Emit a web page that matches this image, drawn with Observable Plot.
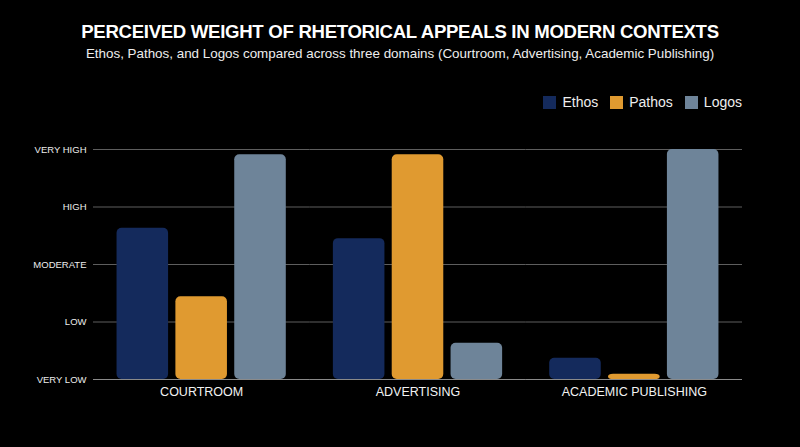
<!DOCTYPE html>
<html>
<head>
<meta charset="utf-8">
<script src="https://cdn.jsdelivr.net/npm/d3@7"></script>
<script src="https://cdn.jsdelivr.net/npm/@observablehq/plot@0.6"></script>
<style>
  html, body { margin: 0; padding: 0; background: #000; }
  body { width: 800px; height: 447px; overflow: hidden; font-family: "Liberation Sans", Arial, sans-serif; color: #fff; }
  #header { position: relative; height: 120px; }
  #title { position: absolute; top: 21px; left: 0; width: 800px; text-align: center; font-size: 18.6px; font-weight: bold; letter-spacing: -0.3px; }
  #subtitle { position: absolute; top: 46px; left: 0; width: 800px; text-align: center; font-size: 13.4px; color: #eee; }
  #legend { position: absolute; top: 94px; right: 58px; display: flex; align-items: center; font-size: 14px; color: #eee; }
  .item { display: flex; align-items: center; margin-left: 12px; }
  .sw { width: 13px; height: 13px; margin-right: 6px; }
  #chart svg { display: block; }
</style>
</head>
<body>
<div id="header">
  <div id="title"></div>
  <div id="subtitle"></div>
  <div id="legend"></div>
</div>
<div id="chart"></div>
<script>
const titleText = "PERCEIVED WEIGHT OF RHETORICAL APPEALS IN MODERN CONTEXTS";
const subtitleText = "Ethos, Pathos, and Logos compared across three domains (Courtroom, Advertising, Academic Publishing)";
const domains = ["COURTROOM", "ADVERTISING", "ACADEMIC PUBLISHING"];
const appeals = ["Ethos", "Pathos", "Logos"];
const colors = ["#142a5c", "#e09a30", "#6e8499"];
const levelLabels = ["VERY LOW", "LOW", "MODERATE", "HIGH", "VERY HIGH"];
// level above "VERY LOW" (0 = very low, 4 = very high)
const ethos  = [2.63, 2.45, 0.37];
const pathos = [1.44, 3.91, 0.09];
const logos  = [3.91, 0.63, 4.0];

document.getElementById("title").textContent = titleText;
document.getElementById("subtitle").textContent = subtitleText;
const legend = document.getElementById("legend");
appeals.forEach((a, i) => {
  const it = document.createElement("div"); it.className = "item";
  const sw = document.createElement("div"); sw.className = "sw"; sw.style.background = colors[i];
  const t = document.createElement("span"); t.textContent = a;
  it.appendChild(sw); it.appendChild(t); legend.appendChild(it);
});

const series = [ethos, pathos, logos];
const data = [];
domains.forEach((d, di) => appeals.forEach((a, ai) => data.push({domain: d, appeal: a, value: series[ai][di]})));

const chart = Plot.plot({
  width: 800,
  height: 327,
  marginLeft: 93,
  marginRight: 58,
  marginTop: 29,
  marginBottom: 68,
  style: {background: "#000", color: "#eee", fontFamily: "Liberation Sans, Arial, sans-serif"},
  fx: {domain: domains, padding: 0, label: null, axis: null, round: false},
  x: {domain: appeals, paddingInner: 0.124, paddingOuter: 0.4, axis: null, round: false},
  y: {domain: [0, 4], axis: null},
  color: {domain: appeals, range: colors},
  marks: [
    Plot.gridY([0, 1, 2, 3, 4], {stroke: "#5e5e5e", strokeOpacity: 1, strokeWidth: 1}),
    Plot.axisY([0, 1, 2, 3, 4], {tickSize: 0, tickPadding: 7, fontSize: 9.5, fill: "#ececec", tickFormat: d => levelLabels[d], label: null}),
    Plot.barY(data, {fx: "domain", x: "appeal", y: "value", fill: "appeal", rx: 5}),
    Plot.ruleY([0], {stroke: "#8a8a8a", strokeWidth: 1.2}),
    Plot.axisFx({anchor: "bottom", tickSize: 0, tickPadding: 8, fontSize: 12.5, fill: "#f2f2f2", label: null})
  ]
});
document.getElementById("chart").appendChild(chart);
</script>
</body>
</html>
